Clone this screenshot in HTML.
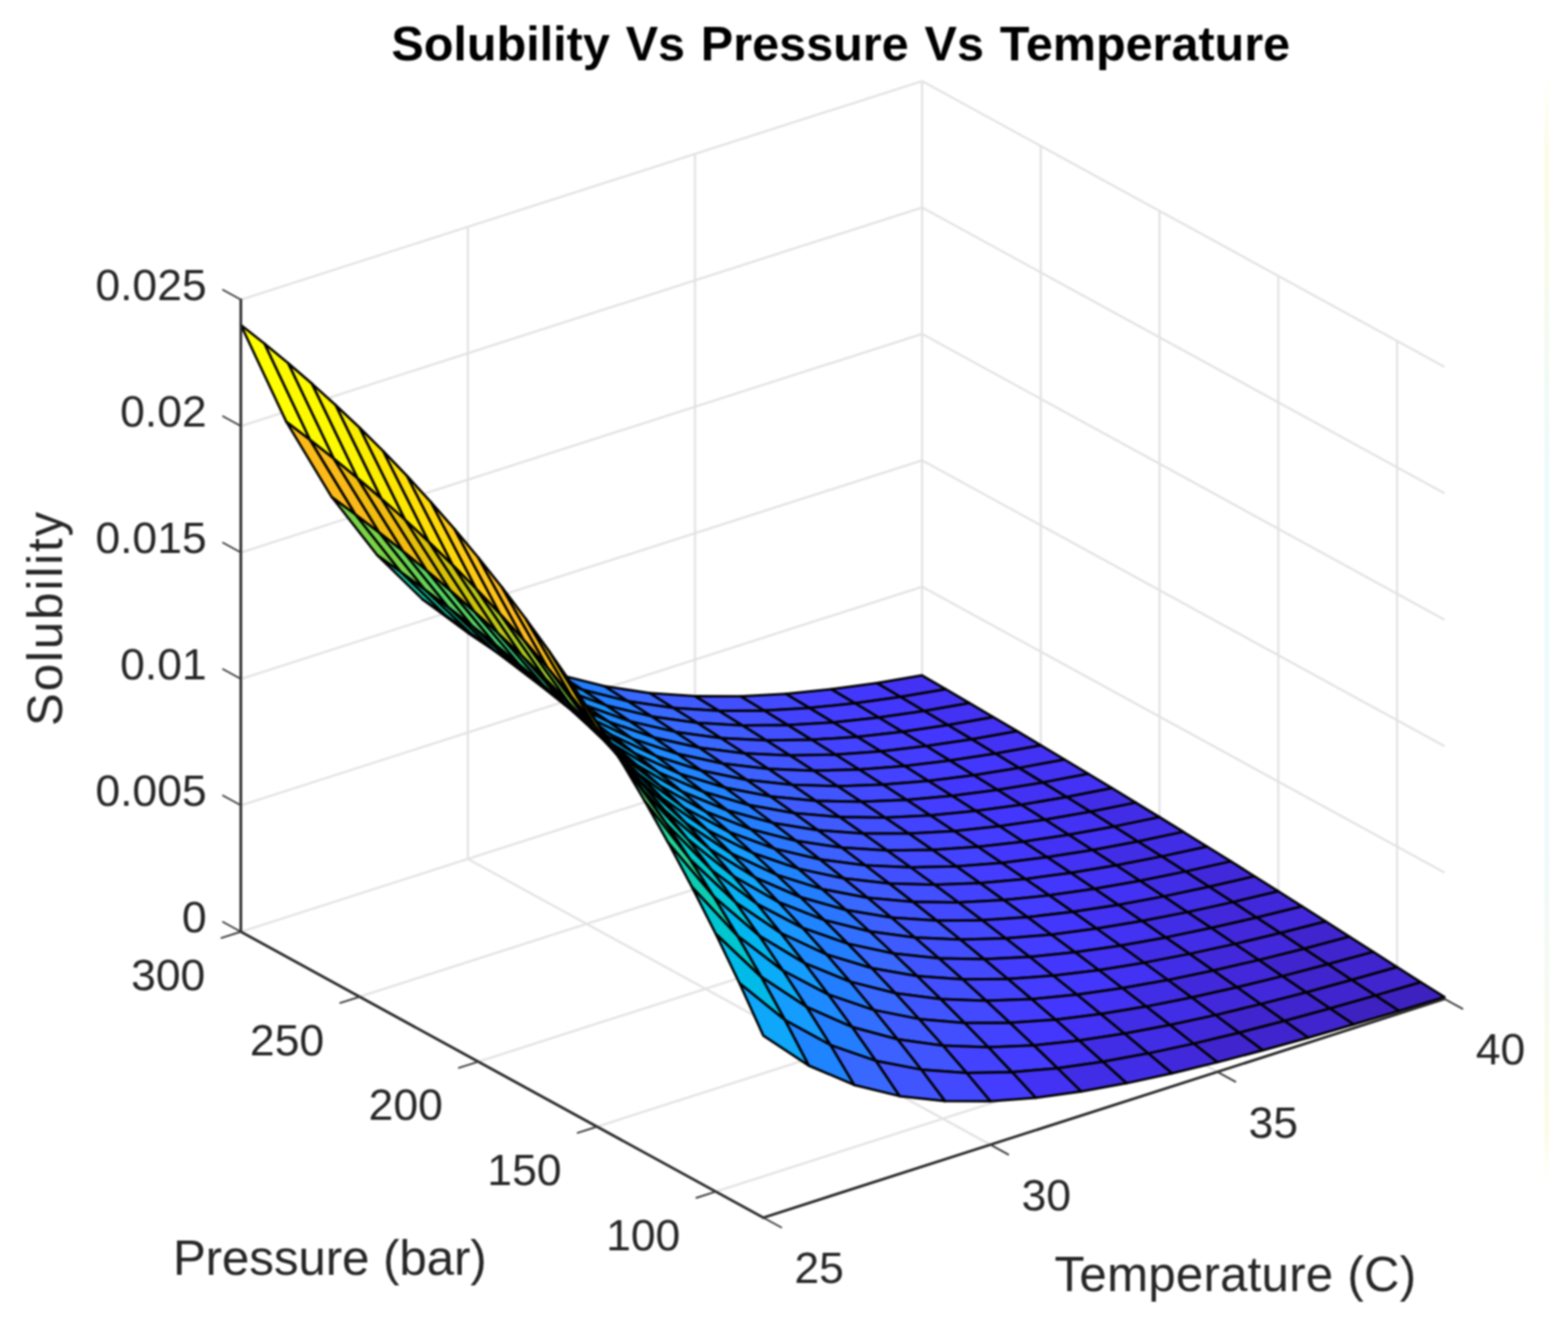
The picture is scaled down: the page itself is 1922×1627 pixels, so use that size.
<!DOCTYPE html><html><head><meta charset="utf-8"><style>html,body{margin:0;padding:0;background:#fff;overflow:hidden}svg{display:block}</style></head><body><svg width="1922" height="1627" viewBox="0 0 1922 1627" style="filter:blur(0.80px)"><rect width="1922" height="1627" fill="#ffffff"/><defs><linearGradient id="art" x1="0" y1="0" x2="0" y2="1"><stop offset="0" stop-color="#fffbe6" stop-opacity="0"/><stop offset="0.08" stop-color="#fdfbe4"/><stop offset="0.35" stop-color="#eefafb"/><stop offset="0.7" stop-color="#eff9fb"/><stop offset="0.95" stop-color="#fdfbe8"/><stop offset="1" stop-color="#fffbe6" stop-opacity="0"/></linearGradient></defs><rect x="1893" y="90" width="6" height="1360" fill="url(#art)"/><g stroke-linecap="butt"><line x1="295.2" y1="1142.4" x2="1130.2" y2="874.4" stroke="#e2e2e2" stroke-width="2.60"/><line x1="295.2" y1="987.4" x2="1130.2" y2="719.4" stroke="#e2e2e2" stroke-width="2.60"/><line x1="295.2" y1="832.4" x2="1130.2" y2="564.4" stroke="#e2e2e2" stroke-width="2.60"/><line x1="295.2" y1="677.4" x2="1130.2" y2="409.4" stroke="#e2e2e2" stroke-width="2.60"/><line x1="295.2" y1="522.4" x2="1130.2" y2="254.4" stroke="#e2e2e2" stroke-width="2.60"/><line x1="295.2" y1="367.4" x2="1130.2" y2="99.4" stroke="#e2e2e2" stroke-width="2.60"/><line x1="573.5" y1="1053.1" x2="573.5" y2="278.1" stroke="#e2e2e2" stroke-width="2.60"/><line x1="851.9" y1="963.7" x2="851.9" y2="188.7" stroke="#e2e2e2" stroke-width="2.60"/><line x1="1130.2" y1="874.4" x2="1130.2" y2="99.4" stroke="#e2e2e2" stroke-width="2.60"/><line x1="1130.2" y1="874.4" x2="1770.7" y2="1224.8" stroke="#e2e2e2" stroke-width="2.60"/><line x1="1130.2" y1="719.4" x2="1770.7" y2="1069.8" stroke="#e2e2e2" stroke-width="2.60"/><line x1="1130.2" y1="564.4" x2="1770.7" y2="914.8" stroke="#e2e2e2" stroke-width="2.60"/><line x1="1130.2" y1="409.4" x2="1770.7" y2="759.8" stroke="#e2e2e2" stroke-width="2.60"/><line x1="1130.2" y1="254.4" x2="1770.7" y2="604.8" stroke="#e2e2e2" stroke-width="2.60"/><line x1="1130.2" y1="99.4" x2="1770.7" y2="449.8" stroke="#e2e2e2" stroke-width="2.60"/><line x1="1275.8" y1="954.0" x2="1275.8" y2="179.0" stroke="#e2e2e2" stroke-width="2.60"/><line x1="1421.3" y1="1033.7" x2="1421.3" y2="258.7" stroke="#e2e2e2" stroke-width="2.60"/><line x1="1566.9" y1="1113.3" x2="1566.9" y2="338.3" stroke="#e2e2e2" stroke-width="2.60"/><line x1="1712.5" y1="1193.0" x2="1712.5" y2="418.0" stroke="#e2e2e2" stroke-width="2.60"/><line x1="440.8" y1="1222.1" x2="1275.8" y2="954.0" stroke="#e2e2e2" stroke-width="2.60"/><line x1="586.3" y1="1301.7" x2="1421.3" y2="1033.7" stroke="#e2e2e2" stroke-width="2.60"/><line x1="731.8" y1="1381.4" x2="1566.9" y2="1113.3" stroke="#e2e2e2" stroke-width="2.60"/><line x1="877.4" y1="1461.0" x2="1712.5" y2="1193.0" stroke="#e2e2e2" stroke-width="2.60"/><line x1="1214.0" y1="1403.5" x2="573.5" y2="1053.1" stroke="#e2e2e2" stroke-width="2.60"/><line x1="1492.3" y1="1314.2" x2="851.9" y2="963.7" stroke="#e2e2e2" stroke-width="2.60"/></g><g stroke="#000000" stroke-width="3.00" stroke-linejoin="round"><polygon points="1103.7,854.5 1074.6,837.4 1130.2,828.1 1159.4,845.0" fill="#4332f3"/><polygon points="1048.0,862.3 1018.9,845.1 1074.6,837.4 1103.7,854.5" fill="#4437fd"/><polygon points="992.3,868.1 963.2,850.7 1018.9,845.1 1048.0,862.3" fill="#443dff"/><polygon points="936.7,871.3 907.6,853.7 963.2,850.7 992.3,868.1" fill="#4349ff"/><polygon points="881.0,871.5 851.9,853.6 907.6,853.7 936.7,871.3" fill="#424fff"/><polygon points="825.3,867.9 796.2,849.8 851.9,853.6 881.0,871.5" fill="#3f5bff"/><polygon points="769.7,859.7 740.6,841.3 796.2,849.8 825.3,867.9" fill="#3968ff"/><polygon points="714.0,845.8 684.9,827.1 740.6,841.3 769.7,859.7" fill="#237dff"/><polygon points="658.3,824.9 629.2,805.8 684.9,827.1 714.0,845.8" fill="#1c90ff"/><polygon points="602.7,795.3 573.5,775.7 629.2,805.8 658.3,824.9" fill="#0ea7fa"/><polygon points="547.0,755.0 517.9,734.8 573.5,775.7 602.7,795.3" fill="#00bfe1"/><polygon points="491.3,701.1 462.2,680.4 517.9,734.8 547.0,755.0" fill="#15cea6"/><polygon points="435.6,630.6 406.5,609.2 462.2,680.4 491.3,701.1" fill="#78d447"/><polygon points="380.0,539.1 350.9,517.0 406.5,609.2 435.6,630.6" fill="#fbba18"/><polygon points="324.3,421.4 295.2,398.4 350.9,517.0 380.0,539.1" fill="#ffff00"/><polygon points="1132.8,871.7 1103.7,854.5 1159.4,845.0 1188.5,862.1" fill="#4332f3"/><polygon points="1077.1,879.7 1048.0,862.3 1103.7,854.5 1132.8,871.7" fill="#4437fd"/><polygon points="1021.5,885.7 992.3,868.1 1048.0,862.3 1077.1,879.7" fill="#443dff"/><polygon points="965.8,889.1 936.7,871.3 992.3,868.1 1021.5,885.7" fill="#4343ff"/><polygon points="910.1,889.6 881.0,871.5 936.7,871.3 965.8,889.1" fill="#424fff"/><polygon points="854.5,886.3 825.3,867.9 881.0,871.5 910.1,889.6" fill="#3f5bff"/><polygon points="798.8,878.4 769.7,859.7 825.3,867.9 854.5,886.3" fill="#3968ff"/><polygon points="743.1,864.9 714.0,845.8 769.7,859.7 798.8,878.4" fill="#237dff"/><polygon points="687.4,844.5 658.3,824.9 714.0,845.8 743.1,864.9" fill="#1c90ff"/><polygon points="631.8,815.4 602.7,795.3 658.3,824.9 687.4,844.5" fill="#0ea7fa"/><polygon points="576.1,775.6 547.0,755.0 602.7,795.3 631.8,815.4" fill="#00bfe1"/><polygon points="520.4,722.5 491.3,701.1 547.0,755.0 576.1,775.6" fill="#15cea6"/><polygon points="464.8,652.7 435.6,630.6 491.3,701.1 520.4,722.5" fill="#78d447"/><polygon points="409.1,562.1 380.0,539.1 435.6,630.6 464.8,652.7" fill="#fbba18"/><polygon points="353.4,445.4 324.3,421.4 380.0,539.1 409.1,562.1" fill="#fdfa00"/><polygon points="1161.9,889.0 1132.8,871.7 1188.5,862.1 1217.6,879.2" fill="#4332f3"/><polygon points="1106.2,897.2 1077.1,879.7 1132.8,871.7 1161.9,889.0" fill="#4437fd"/><polygon points="1050.6,903.4 1021.5,885.7 1077.1,879.7 1106.2,897.2" fill="#443dff"/><polygon points="994.9,907.1 965.8,889.1 1021.5,885.7 1050.6,903.4" fill="#4343ff"/><polygon points="939.2,907.8 910.1,889.6 965.8,889.1 994.9,907.1" fill="#424fff"/><polygon points="883.6,904.9 854.5,886.3 910.1,889.6 939.2,907.8" fill="#3f5bff"/><polygon points="827.9,897.4 798.8,878.4 854.5,886.3 883.6,904.9" fill="#3968ff"/><polygon points="772.2,884.4 743.1,864.9 798.8,878.4 827.9,897.4" fill="#2b76ff"/><polygon points="716.5,864.4 687.4,844.5 743.1,864.9 772.2,884.4" fill="#1c90ff"/><polygon points="660.9,836.0 631.8,815.4 687.4,844.5 716.5,864.4" fill="#0ea7fa"/><polygon points="605.2,796.9 576.1,775.6 631.8,815.4 660.9,836.0" fill="#00bfe1"/><polygon points="549.5,744.5 520.4,722.5 576.1,775.6 605.2,796.9" fill="#15cea6"/><polygon points="493.9,675.6 464.8,652.7 520.4,722.5 549.5,744.5" fill="#66d555"/><polygon points="438.2,586.1 409.1,562.1 464.8,652.7 493.9,675.6" fill="#f1bc0f"/><polygon points="382.5,470.5 353.4,445.4 409.1,562.1 438.2,586.1" fill="#fdfa00"/><polygon points="1191.0,906.4 1161.9,889.0 1217.6,879.2 1246.7,896.4" fill="#4332f3"/><polygon points="1135.3,914.8 1106.2,897.2 1161.9,889.0 1191.0,906.4" fill="#4437fd"/><polygon points="1079.7,921.2 1050.6,903.4 1106.2,897.2 1135.3,914.8" fill="#443dff"/><polygon points="1024.0,925.2 994.9,907.1 1050.6,903.4 1079.7,921.2" fill="#4343ff"/><polygon points="968.3,926.3 939.2,907.8 994.9,907.1 1024.0,925.2" fill="#424fff"/><polygon points="912.7,923.7 883.6,904.9 939.2,907.8 968.3,926.3" fill="#4155ff"/><polygon points="857.0,916.7 827.9,897.4 883.6,904.9 912.7,923.7" fill="#3968ff"/><polygon points="801.3,904.2 772.2,884.4 827.9,897.4 857.0,916.7" fill="#2b76ff"/><polygon points="745.7,884.8 716.5,864.4 772.2,884.4 801.3,904.2" fill="#1d8aff"/><polygon points="690.0,857.0 660.9,836.0 716.5,864.4 745.7,884.8" fill="#11a1fe"/><polygon points="634.3,818.7 605.2,796.9 660.9,836.0 690.0,857.0" fill="#00bbe8"/><polygon points="578.6,767.2 549.5,744.5 605.2,796.9 634.3,818.7" fill="#0cccb2"/><polygon points="523.0,699.4 493.9,675.6 549.5,744.5 578.6,767.2" fill="#56d664"/><polygon points="467.3,611.0 438.2,586.1 493.9,675.6 523.0,699.4" fill="#f1bc0f"/><polygon points="411.6,496.9 382.5,470.5 438.2,586.1 467.3,611.0" fill="#fcf400"/><polygon points="1220.1,924.0 1191.0,906.4 1246.7,896.4 1275.8,913.8" fill="#4332f3"/><polygon points="1164.5,932.6 1135.3,914.8 1191.0,906.4 1220.1,924.0" fill="#4437fd"/><polygon points="1108.8,939.3 1079.7,921.2 1135.3,914.8 1164.5,932.6" fill="#443dff"/><polygon points="1053.1,943.6 1024.0,925.2 1079.7,921.2 1108.8,939.3" fill="#4343ff"/><polygon points="997.5,945.0 968.3,926.3 1024.0,925.2 1053.1,943.6" fill="#4349ff"/><polygon points="941.8,942.8 912.7,923.7 968.3,926.3 997.5,945.0" fill="#4155ff"/><polygon points="886.1,936.3 857.0,916.7 912.7,923.7 941.8,942.8" fill="#3c61ff"/><polygon points="830.4,924.3 801.3,904.2 857.0,916.7 886.1,936.3" fill="#2b76ff"/><polygon points="774.8,905.6 745.7,884.8 801.3,904.2 830.4,924.3" fill="#1d8aff"/><polygon points="719.1,878.5 690.0,857.0 745.7,884.8 774.8,905.6" fill="#11a1fe"/><polygon points="663.4,841.1 634.3,818.7 690.0,857.0 719.1,878.5" fill="#00bbe8"/><polygon points="607.8,790.7 578.6,767.2 634.3,818.7 663.4,841.1" fill="#0cccb2"/><polygon points="552.1,724.0 523.0,699.4 578.6,767.2 607.8,790.7" fill="#56d664"/><polygon points="496.4,637.0 467.3,611.0 523.0,699.4 552.1,724.0" fill="#e5bf0a"/><polygon points="440.8,524.4 411.6,496.9 467.3,611.0 496.4,637.0" fill="#fbed00"/><polygon points="1249.2,941.6 1220.1,924.0 1275.8,913.8 1304.9,931.2" fill="#4332f3"/><polygon points="1193.6,950.5 1164.5,932.6 1220.1,924.0 1249.2,941.6" fill="#4437fd"/><polygon points="1137.9,957.5 1108.8,939.3 1164.5,932.6 1193.6,950.5" fill="#443dff"/><polygon points="1082.2,962.1 1053.1,943.6 1108.8,939.3 1137.9,957.5" fill="#4343ff"/><polygon points="1026.6,963.9 997.5,945.0 1053.1,943.6 1082.2,962.1" fill="#4349ff"/><polygon points="970.9,962.2 941.8,942.8 997.5,945.0 1026.6,963.9" fill="#4155ff"/><polygon points="915.2,956.2 886.1,936.3 941.8,942.8 970.9,962.2" fill="#3c61ff"/><polygon points="859.5,944.8 830.4,924.3 886.1,936.3 915.2,956.2" fill="#336fff"/><polygon points="803.9,926.9 774.8,905.6 830.4,924.3 859.5,944.8" fill="#1d8aff"/><polygon points="748.2,900.6 719.1,878.5 774.8,905.6 803.9,926.9" fill="#149cff"/><polygon points="692.5,864.2 663.4,841.1 719.1,878.5 748.2,900.6" fill="#00b6ee"/><polygon points="636.9,814.9 607.8,790.7 663.4,841.1 692.5,864.2" fill="#00cabd"/><polygon points="581.2,749.5 552.1,724.0 607.8,790.7 636.9,814.9" fill="#47d672"/><polygon points="525.5,664.1 496.4,637.0 552.1,724.0 581.2,749.5" fill="#d8c208"/><polygon points="469.9,553.3 440.8,524.4 496.4,637.0 525.5,664.1" fill="#fde601"/><polygon points="1278.3,959.4 1249.2,941.6 1304.9,931.2 1334.0,948.7" fill="#4332f3"/><polygon points="1222.7,968.5 1193.6,950.5 1249.2,941.6 1278.3,959.4" fill="#4332f3"/><polygon points="1167.0,975.8 1137.9,957.5 1193.6,950.5 1222.7,968.5" fill="#4437fd"/><polygon points="1111.3,980.8 1082.2,962.1 1137.9,957.5 1167.0,975.8" fill="#4343ff"/><polygon points="1055.7,983.1 1026.6,963.9 1082.2,962.1 1111.3,980.8" fill="#4349ff"/><polygon points="1000.0,981.9 970.9,962.2 1026.6,963.9 1055.7,983.1" fill="#4155ff"/><polygon points="944.3,976.5 915.2,956.2 970.9,962.2 1000.0,981.9" fill="#3c61ff"/><polygon points="888.7,965.8 859.5,944.8 915.2,956.2 944.3,976.5" fill="#336fff"/><polygon points="833.0,948.6 803.9,926.9 859.5,944.8 888.7,965.8" fill="#1f84ff"/><polygon points="777.3,923.3 748.2,900.6 803.9,926.9 833.0,948.6" fill="#149cff"/><polygon points="721.7,887.9 692.5,864.2 748.2,900.6 777.3,923.3" fill="#05b1f3"/><polygon points="666.0,839.9 636.9,814.9 692.5,864.2 721.7,887.9" fill="#00c8c7"/><polygon points="610.3,776.0 581.2,749.5 636.9,814.9 666.0,839.9" fill="#38d67f"/><polygon points="554.6,692.3 525.5,664.1 581.2,749.5 610.3,776.0" fill="#cac50c"/><polygon points="499.0,583.6 469.9,553.3 525.5,664.1 554.6,692.3" fill="#ffdf05"/><polygon points="1307.5,977.3 1278.3,959.4 1334.0,948.7 1363.1,966.3" fill="#4332f3"/><polygon points="1251.8,986.7 1222.7,968.5 1278.3,959.4 1307.5,977.3" fill="#4332f3"/><polygon points="1196.1,994.3 1167.0,975.8 1222.7,968.5 1251.8,986.7" fill="#4437fd"/><polygon points="1140.4,999.8 1111.3,980.8 1167.0,975.8 1196.1,994.3" fill="#443dff"/><polygon points="1084.8,1002.5 1055.7,983.1 1111.3,980.8 1140.4,999.8" fill="#4349ff"/><polygon points="1029.1,1001.8 1000.0,981.9 1055.7,983.1 1084.8,1002.5" fill="#424fff"/><polygon points="973.4,997.0 944.3,976.5 1000.0,981.9 1029.1,1001.8" fill="#3f5bff"/><polygon points="917.8,987.1 888.7,965.8 944.3,976.5 973.4,997.0" fill="#336fff"/><polygon points="862.1,970.8 833.0,948.6 888.7,965.8 917.8,987.1" fill="#1f84ff"/><polygon points="806.4,946.5 777.3,923.3 833.0,948.6 862.1,970.8" fill="#1996ff"/><polygon points="750.8,912.3 721.7,887.9 777.3,923.3 806.4,946.5" fill="#05b1f3"/><polygon points="695.1,865.7 666.0,839.9 721.7,887.9 750.8,912.3" fill="#00c6d0"/><polygon points="639.4,803.6 610.3,776.0 666.0,839.9 695.1,865.7" fill="#2bd58b"/><polygon points="583.7,721.8 554.6,692.3 610.3,776.0 639.4,803.6" fill="#bbc915"/><polygon points="528.1,615.4 499.0,583.6 554.6,692.3 583.7,721.8" fill="#ffd80a"/><polygon points="1336.6,995.3 1307.5,977.3 1363.1,966.3 1392.2,984.1" fill="#422de7"/><polygon points="1280.9,1005.0 1251.8,986.7 1307.5,977.3 1336.6,995.3" fill="#4332f3"/><polygon points="1225.2,1013.1 1196.1,994.3 1251.8,986.7 1280.9,1005.0" fill="#4437fd"/><polygon points="1169.6,1018.9 1140.4,999.8 1196.1,994.3 1225.2,1013.1" fill="#443dff"/><polygon points="1113.9,1022.1 1084.8,1002.5 1140.4,999.8 1169.6,1018.9" fill="#4343ff"/><polygon points="1058.2,1022.1 1029.1,1001.8 1084.8,1002.5 1113.9,1022.1" fill="#424fff"/><polygon points="1002.6,1018.0 973.4,997.0 1029.1,1001.8 1058.2,1022.1" fill="#3f5bff"/><polygon points="946.9,1008.9 917.8,987.1 973.4,997.0 1002.6,1018.0" fill="#3968ff"/><polygon points="891.2,993.5 862.1,970.8 917.8,987.1 946.9,1008.9" fill="#237dff"/><polygon points="835.5,970.4 806.4,946.5 862.1,970.8 891.2,993.5" fill="#1996ff"/><polygon points="779.9,937.5 750.8,912.3 806.4,946.5 835.5,970.4" fill="#0aacf7"/><polygon points="724.2,892.5 695.1,865.7 750.8,912.3 779.9,937.5" fill="#00c6d0"/><polygon points="668.5,832.1 639.4,803.6 695.1,865.7 724.2,892.5" fill="#22d397"/><polygon points="612.9,752.6 583.7,721.8 639.4,803.6 668.5,832.1" fill="#abcc1f"/><polygon points="557.2,648.7 528.1,615.4 583.7,721.8 612.9,752.6" fill="#ffca13"/><polygon points="1365.7,1013.4 1336.6,995.3 1392.2,984.1 1421.3,1001.9" fill="#422de7"/><polygon points="1310.0,1023.5 1280.9,1005.0 1336.6,995.3 1365.7,1013.4" fill="#4332f3"/><polygon points="1254.3,1032.0 1225.2,1013.1 1280.9,1005.0 1310.0,1023.5" fill="#4437fd"/><polygon points="1198.7,1038.3 1169.6,1018.9 1225.2,1013.1 1254.3,1032.0" fill="#443dff"/><polygon points="1143.0,1042.1 1113.9,1022.1 1169.6,1018.9 1198.7,1038.3" fill="#4343ff"/><polygon points="1087.3,1042.7 1058.2,1022.1 1113.9,1022.1 1143.0,1042.1" fill="#424fff"/><polygon points="1031.7,1039.3 1002.6,1018.0 1058.2,1022.1 1087.3,1042.7" fill="#4155ff"/><polygon points="976.0,1031.1 946.9,1008.9 1002.6,1018.0 1031.7,1039.3" fill="#3968ff"/><polygon points="920.3,1016.8 891.2,993.5 946.9,1008.9 976.0,1031.1" fill="#237dff"/><polygon points="864.6,994.9 835.5,970.4 891.2,993.5 920.3,1016.8" fill="#1c90ff"/><polygon points="809.0,963.5 779.9,937.5 835.5,970.4 864.6,994.9" fill="#0ea7fa"/><polygon points="753.3,920.2 724.2,892.5 779.9,937.5 809.0,963.5" fill="#00c3d9"/><polygon points="697.6,861.8 668.5,832.1 724.2,892.5 753.3,920.2" fill="#1cd19b"/><polygon points="642.0,784.6 612.9,752.6 668.5,832.1 697.6,861.8" fill="#9acf2b"/><polygon points="586.3,683.6 557.2,648.7 612.9,752.6 642.0,784.6" fill="#ffc319"/><polygon points="1394.8,1031.7 1365.7,1013.4 1421.3,1001.9 1450.5,1019.9" fill="#422de7"/><polygon points="1339.1,1042.2 1310.0,1023.5 1365.7,1013.4 1394.8,1031.7" fill="#4332f3"/><polygon points="1283.4,1051.0 1254.3,1032.0 1310.0,1023.5 1339.1,1042.2" fill="#4332f3"/><polygon points="1227.8,1057.9 1198.7,1038.3 1254.3,1032.0 1283.4,1051.0" fill="#4437fd"/><polygon points="1172.1,1062.3 1143.0,1042.1 1198.7,1038.3 1227.8,1057.9" fill="#4343ff"/><polygon points="1116.4,1063.6 1087.3,1042.7 1143.0,1042.1 1172.1,1062.3" fill="#4349ff"/><polygon points="1060.8,1061.1 1031.7,1039.3 1087.3,1042.7 1116.4,1063.6" fill="#4155ff"/><polygon points="1005.1,1053.8 976.0,1031.1 1031.7,1039.3 1060.8,1061.1" fill="#3c61ff"/><polygon points="949.4,1040.6 920.3,1016.8 976.0,1031.1 1005.1,1053.8" fill="#2b76ff"/><polygon points="893.8,1020.1 864.6,994.9 920.3,1016.8 949.4,1040.6" fill="#1d8aff"/><polygon points="838.1,990.3 809.0,963.5 864.6,994.9 893.8,1020.1" fill="#11a1fe"/><polygon points="782.4,948.8 753.3,920.2 809.0,963.5 838.1,990.3" fill="#00bfe1"/><polygon points="726.8,892.7 697.6,861.8 753.3,920.2 782.4,948.8" fill="#15cea6"/><polygon points="671.1,818.2 642.0,784.6 697.6,861.8 726.8,892.7" fill="#78d447"/><polygon points="615.4,720.2 586.3,683.6 642.0,784.6 671.1,818.2" fill="#ffb921"/><polygon points="1423.9,1050.1 1394.8,1031.7 1450.5,1019.9 1479.6,1038.0" fill="#422de7"/><polygon points="1368.2,1061.0 1339.1,1042.2 1394.8,1031.7 1423.9,1050.1" fill="#422de7"/><polygon points="1312.6,1070.3 1283.4,1051.0 1339.1,1042.2 1368.2,1061.0" fill="#4332f3"/><polygon points="1256.9,1077.7 1227.8,1057.9 1283.4,1051.0 1312.6,1070.3" fill="#4437fd"/><polygon points="1201.2,1082.7 1172.1,1062.3 1227.8,1057.9 1256.9,1077.7" fill="#443dff"/><polygon points="1145.5,1084.8 1116.4,1063.6 1172.1,1062.3 1201.2,1082.7" fill="#4349ff"/><polygon points="1089.9,1083.2 1060.8,1061.1 1116.4,1063.6 1145.5,1084.8" fill="#424fff"/><polygon points="1034.2,1077.0 1005.1,1053.8 1060.8,1061.1 1089.9,1083.2" fill="#3c61ff"/><polygon points="978.5,1065.1 949.4,1040.6 1005.1,1053.8 1034.2,1077.0" fill="#336fff"/><polygon points="922.9,1046.0 893.8,1020.1 949.4,1040.6 978.5,1065.1" fill="#1f84ff"/><polygon points="867.2,1017.9 838.1,990.3 893.8,1020.1 922.9,1046.0" fill="#11a1fe"/><polygon points="811.5,978.5 782.4,948.8 838.1,990.3 867.2,1017.9" fill="#00bbe8"/><polygon points="755.9,924.8 726.8,892.7 782.4,948.8 811.5,978.5" fill="#0cccb2"/><polygon points="700.2,853.2 671.1,818.2 726.8,892.7 755.9,924.8" fill="#66d555"/><polygon points="644.5,758.7 615.4,720.2 671.1,818.2 700.2,853.2" fill="#fbba18"/><polygon points="1453.0,1068.6 1423.9,1050.1 1479.6,1038.0 1508.7,1056.1" fill="#422de7"/><polygon points="1397.3,1080.0 1368.2,1061.0 1423.9,1050.1 1453.0,1068.6" fill="#422de7"/><polygon points="1341.7,1089.8 1312.6,1070.3 1368.2,1061.0 1397.3,1080.0" fill="#4332f3"/><polygon points="1286.0,1097.8 1256.9,1077.7 1312.6,1070.3 1341.7,1089.8" fill="#4437fd"/><polygon points="1230.3,1103.5 1201.2,1082.7 1256.9,1077.7 1286.0,1097.8" fill="#443dff"/><polygon points="1174.7,1106.4 1145.5,1084.8 1201.2,1082.7 1230.3,1103.5" fill="#4343ff"/><polygon points="1119.0,1105.7 1089.9,1083.2 1145.5,1084.8 1174.7,1106.4" fill="#424fff"/><polygon points="1063.3,1100.7 1034.2,1077.0 1089.9,1083.2 1119.0,1105.7" fill="#3f5bff"/><polygon points="1007.6,1090.1 978.5,1065.1 1034.2,1077.0 1063.3,1100.7" fill="#3968ff"/><polygon points="952.0,1072.6 922.9,1046.0 978.5,1065.1 1007.6,1090.1" fill="#1f84ff"/><polygon points="896.3,1046.4 867.2,1017.9 922.9,1046.0 952.0,1072.6" fill="#149cff"/><polygon points="840.6,1009.2 811.5,978.5 867.2,1017.9 896.3,1046.4" fill="#05b1f3"/><polygon points="785.0,958.2 755.9,924.8 811.5,978.5 840.6,1009.2" fill="#00c8c7"/><polygon points="729.3,889.8 700.2,853.2 755.9,924.8 785.0,958.2" fill="#47d672"/><polygon points="673.6,799.0 644.5,758.7 700.2,853.2 729.3,889.8" fill="#e5bf0a"/><polygon points="1482.1,1087.3 1453.0,1068.6 1508.7,1056.1 1537.8,1074.4" fill="#4129db"/><polygon points="1426.5,1099.1 1397.3,1080.0 1453.0,1068.6 1482.1,1087.3" fill="#422de7"/><polygon points="1370.8,1109.5 1341.7,1089.8 1397.3,1080.0 1426.5,1099.1" fill="#4332f3"/><polygon points="1315.1,1118.1 1286.0,1097.8 1341.7,1089.8 1370.8,1109.5" fill="#4332f3"/><polygon points="1259.4,1124.5 1230.3,1103.5 1286.0,1097.8 1315.1,1118.1" fill="#443dff"/><polygon points="1203.8,1128.3 1174.7,1106.4 1230.3,1103.5 1259.4,1124.5" fill="#4343ff"/><polygon points="1148.1,1128.7 1119.0,1105.7 1174.7,1106.4 1203.8,1128.3" fill="#4349ff"/><polygon points="1092.4,1124.9 1063.3,1100.7 1119.0,1105.7 1148.1,1128.7" fill="#4155ff"/><polygon points="1036.8,1115.7 1007.6,1090.1 1063.3,1100.7 1092.4,1124.9" fill="#3968ff"/><polygon points="981.1,1100.0 952.0,1072.6 1007.6,1090.1 1036.8,1115.7" fill="#237dff"/><polygon points="925.4,1075.8 896.3,1046.4 952.0,1072.6 981.1,1100.0" fill="#1c90ff"/><polygon points="869.8,1041.1 840.6,1009.2 896.3,1046.4 925.4,1075.8" fill="#0aacf7"/><polygon points="814.1,993.0 785.0,958.2 840.6,1009.2 869.8,1041.1" fill="#00c6d0"/><polygon points="758.4,928.0 729.3,889.8 785.0,958.2 814.1,993.0" fill="#2bd58b"/><polygon points="702.7,841.4 673.6,799.0 729.3,889.8 758.4,928.0" fill="#cac50c"/><polygon points="1511.2,1106.1 1482.1,1087.3 1537.8,1074.4 1566.9,1092.8" fill="#4129db"/><polygon points="1455.6,1118.4 1426.5,1099.1 1482.1,1087.3 1511.2,1106.1" fill="#422de7"/><polygon points="1399.9,1129.3 1370.8,1109.5 1426.5,1099.1 1455.6,1118.4" fill="#422de7"/><polygon points="1344.2,1138.6 1315.1,1118.1 1370.8,1109.5 1399.9,1129.3" fill="#4332f3"/><polygon points="1288.5,1145.9 1259.4,1124.5 1315.1,1118.1 1344.2,1138.6" fill="#4437fd"/><polygon points="1232.9,1150.6 1203.8,1128.3 1259.4,1124.5 1288.5,1145.9" fill="#443dff"/><polygon points="1177.2,1152.1 1148.1,1128.7 1203.8,1128.3 1232.9,1150.6" fill="#4349ff"/><polygon points="1121.5,1149.6 1092.4,1124.9 1148.1,1128.7 1177.2,1152.1" fill="#4155ff"/><polygon points="1065.9,1142.0 1036.8,1115.7 1092.4,1124.9 1121.5,1149.6" fill="#3c61ff"/><polygon points="1010.2,1128.1 981.1,1100.0 1036.8,1115.7 1065.9,1142.0" fill="#2b76ff"/><polygon points="954.5,1106.2 925.4,1075.8 981.1,1100.0 1010.2,1128.1" fill="#1d8aff"/><polygon points="898.9,1074.2 869.8,1041.1 925.4,1075.8 954.5,1106.2" fill="#0ea7fa"/><polygon points="843.2,1029.2 814.1,993.0 869.8,1041.1 898.9,1074.2" fill="#00bfe1"/><polygon points="787.5,968.0 758.4,928.0 814.1,993.0 843.2,1029.2" fill="#1cd19b"/><polygon points="731.8,885.9 702.7,841.4 758.4,928.0 787.5,968.0" fill="#9acf2b"/><polygon points="1540.3,1125.0 1511.2,1106.1 1566.9,1092.8 1596.0,1111.3" fill="#4129db"/><polygon points="1484.7,1137.8 1455.6,1118.4 1511.2,1106.1 1540.3,1125.0" fill="#4129db"/><polygon points="1429.0,1149.4 1399.9,1129.3 1455.6,1118.4 1484.7,1137.8" fill="#422de7"/><polygon points="1373.3,1159.4 1344.2,1138.6 1399.9,1129.3 1429.0,1149.4" fill="#4332f3"/><polygon points="1317.7,1167.5 1288.5,1145.9 1344.2,1138.6 1373.3,1159.4" fill="#4437fd"/><polygon points="1262.0,1173.2 1232.9,1150.6 1288.5,1145.9 1317.7,1167.5" fill="#443dff"/><polygon points="1206.3,1176.0 1177.2,1152.1 1232.9,1150.6 1262.0,1173.2" fill="#4343ff"/><polygon points="1150.7,1174.9 1121.5,1149.6 1177.2,1152.1 1206.3,1176.0" fill="#424fff"/><polygon points="1095.0,1169.0 1065.9,1142.0 1121.5,1149.6 1150.7,1174.9" fill="#3f5bff"/><polygon points="1039.3,1157.1 1010.2,1128.1 1065.9,1142.0 1095.0,1169.0" fill="#336fff"/><polygon points="983.6,1137.6 954.5,1106.2 1010.2,1128.1 1039.3,1157.1" fill="#1f84ff"/><polygon points="928.0,1108.4 898.9,1074.2 954.5,1106.2 983.6,1137.6" fill="#149cff"/><polygon points="872.3,1066.9 843.2,1029.2 898.9,1074.2 928.0,1108.4" fill="#00bbe8"/><polygon points="816.6,1009.8 787.5,968.0 843.2,1029.2 872.3,1066.9" fill="#0cccb2"/><polygon points="761.0,932.6 731.8,885.9 787.5,968.0 816.6,1009.8" fill="#78d447"/><polygon points="1569.4,1144.0 1540.3,1125.0 1596.0,1111.3 1625.1,1129.8" fill="#4129db"/><polygon points="1513.8,1157.4 1484.7,1137.8 1540.3,1125.0 1569.4,1144.0" fill="#4129db"/><polygon points="1458.1,1169.6 1429.0,1149.4 1484.7,1137.8 1513.8,1157.4" fill="#422de7"/><polygon points="1402.4,1180.4 1373.3,1159.4 1429.0,1149.4 1458.1,1169.6" fill="#422de7"/><polygon points="1346.8,1189.4 1317.7,1167.5 1373.3,1159.4 1402.4,1180.4" fill="#4332f3"/><polygon points="1291.1,1196.3 1262.0,1173.2 1317.7,1167.5 1346.8,1189.4" fill="#4437fd"/><polygon points="1235.4,1200.3 1206.3,1176.0 1262.0,1173.2 1291.1,1196.3" fill="#443dff"/><polygon points="1179.8,1200.7 1150.7,1174.9 1206.3,1176.0 1235.4,1200.3" fill="#4349ff"/><polygon points="1124.1,1196.7 1095.0,1169.0 1150.7,1174.9 1179.8,1200.7" fill="#4155ff"/><polygon points="1068.4,1187.0 1039.3,1157.1 1095.0,1169.0 1124.1,1196.7" fill="#3968ff"/><polygon points="1012.8,1170.1 983.6,1137.6 1039.3,1157.1 1068.4,1187.0" fill="#237dff"/><polygon points="957.1,1144.0 928.0,1108.4 983.6,1137.6 1012.8,1170.1" fill="#1996ff"/><polygon points="901.4,1106.2 872.3,1066.9 928.0,1108.4 957.1,1144.0" fill="#05b1f3"/><polygon points="845.7,1053.6 816.6,1009.8 872.3,1066.9 901.4,1106.2" fill="#00c8c7"/><polygon points="790.1,981.8 761.0,932.6 816.6,1009.8 845.7,1053.6" fill="#47d672"/><polygon points="1598.6,1163.2 1569.4,1144.0 1625.1,1129.8 1654.2,1148.4" fill="#4025ce"/><polygon points="1542.9,1177.1 1513.8,1157.4 1569.4,1144.0 1598.6,1163.2" fill="#4129db"/><polygon points="1487.2,1190.0 1458.1,1169.6 1513.8,1157.4 1542.9,1177.1" fill="#4129db"/><polygon points="1431.6,1201.6 1402.4,1180.4 1458.1,1169.6 1487.2,1190.0" fill="#422de7"/><polygon points="1375.9,1211.6 1346.8,1189.4 1402.4,1180.4 1431.6,1201.6" fill="#4332f3"/><polygon points="1320.2,1219.6 1291.1,1196.3 1346.8,1189.4 1375.9,1211.6" fill="#4437fd"/><polygon points="1264.5,1225.0 1235.4,1200.3 1291.1,1196.3 1320.2,1219.6" fill="#443dff"/><polygon points="1208.9,1227.1 1179.8,1200.7 1235.4,1200.3 1264.5,1225.0" fill="#4343ff"/><polygon points="1153.2,1225.1 1124.1,1196.7 1179.8,1200.7 1208.9,1227.1" fill="#424fff"/><polygon points="1097.5,1217.7 1068.4,1187.0 1124.1,1196.7 1153.2,1225.1" fill="#3f5bff"/><polygon points="1041.9,1203.6 1012.8,1170.1 1068.4,1187.0 1097.5,1217.7" fill="#336fff"/><polygon points="986.2,1180.9 957.1,1144.0 1012.8,1170.1 1041.9,1203.6" fill="#1d8aff"/><polygon points="930.5,1147.2 901.4,1106.2 957.1,1144.0 986.2,1180.9" fill="#0ea7fa"/><polygon points="874.9,1099.4 845.7,1053.6 901.4,1106.2 930.5,1147.2" fill="#00c3d9"/><polygon points="819.2,1033.4 790.1,981.8 845.7,1053.6 874.9,1099.4" fill="#22d397"/><polygon points="1627.7,1182.3 1598.6,1163.2 1654.2,1148.4 1683.3,1167.1" fill="#4025ce"/><polygon points="1572.0,1196.9 1542.9,1177.1 1598.6,1163.2 1627.7,1182.3" fill="#4025ce"/><polygon points="1516.3,1210.5 1487.2,1190.0 1542.9,1177.1 1572.0,1196.9" fill="#4129db"/><polygon points="1460.7,1223.0 1431.6,1201.6 1487.2,1190.0 1516.3,1210.5" fill="#4129db"/><polygon points="1405.0,1234.1 1375.9,1211.6 1431.6,1201.6 1460.7,1223.0" fill="#422de7"/><polygon points="1349.3,1243.3 1320.2,1219.6 1375.9,1211.6 1405.0,1234.1" fill="#4332f3"/><polygon points="1293.7,1250.2 1264.5,1225.0 1320.2,1219.6 1349.3,1243.3" fill="#4437fd"/><polygon points="1238.0,1254.1 1208.9,1227.1 1264.5,1225.0 1293.7,1250.2" fill="#443dff"/><polygon points="1182.3,1254.2 1153.2,1225.1 1208.9,1227.1 1238.0,1254.1" fill="#4349ff"/><polygon points="1126.6,1249.4 1097.5,1217.7 1153.2,1225.1 1182.3,1254.2" fill="#4155ff"/><polygon points="1071.0,1238.4 1041.9,1203.6 1097.5,1217.7 1126.6,1249.4" fill="#3968ff"/><polygon points="1015.3,1219.3 986.2,1180.9 1041.9,1203.6 1071.0,1238.4" fill="#237dff"/><polygon points="959.6,1190.0 930.5,1147.2 986.2,1180.9 1015.3,1219.3" fill="#149cff"/><polygon points="904.0,1147.4 874.9,1099.4 930.5,1147.2 959.6,1190.0" fill="#00b6ee"/><polygon points="848.3,1087.8 819.2,1033.4 874.9,1099.4 904.0,1147.4" fill="#0cccb2"/><polygon points="1656.8,1201.5 1627.7,1182.3 1683.3,1167.1 1712.5,1185.7" fill="#4025ce"/><polygon points="1601.1,1216.7 1572.0,1196.9 1627.7,1182.3 1656.8,1201.5" fill="#4025ce"/><polygon points="1545.4,1231.1 1516.3,1210.5 1572.0,1196.9 1601.1,1216.7" fill="#4129db"/><polygon points="1489.8,1244.6 1460.7,1223.0 1516.3,1210.5 1545.4,1231.1" fill="#4129db"/><polygon points="1434.1,1256.8 1405.0,1234.1 1460.7,1223.0 1489.8,1244.6" fill="#422de7"/><polygon points="1378.4,1267.3 1349.3,1243.3 1405.0,1234.1 1434.1,1256.8" fill="#422de7"/><polygon points="1322.8,1275.8 1293.7,1250.2 1349.3,1243.3 1378.4,1267.3" fill="#4332f3"/><polygon points="1267.1,1281.7 1238.0,1254.1 1293.7,1250.2 1322.8,1275.8" fill="#4437fd"/><polygon points="1211.4,1284.0 1182.3,1254.2 1238.0,1254.1 1267.1,1281.7" fill="#4343ff"/><polygon points="1155.8,1282.0 1126.6,1249.4 1182.3,1254.2 1211.4,1284.0" fill="#424fff"/><polygon points="1100.1,1274.3 1071.0,1238.4 1126.6,1249.4 1155.8,1282.0" fill="#3f5bff"/><polygon points="1044.4,1259.2 1015.3,1219.3 1071.0,1238.4 1100.1,1274.3" fill="#336fff"/><polygon points="988.7,1234.6 959.6,1190.0 1015.3,1219.3 1044.4,1259.2" fill="#1d8aff"/><polygon points="933.1,1197.8 904.0,1147.4 959.6,1190.0 988.7,1234.6" fill="#0aacf7"/><polygon points="877.4,1145.1 848.3,1087.8 904.0,1147.4 933.1,1197.8" fill="#00c6d0"/><polygon points="1685.9,1220.6 1656.8,1201.5 1712.5,1185.7 1741.6,1204.2" fill="#4025ce"/><polygon points="1630.2,1236.5 1601.1,1216.7 1656.8,1201.5 1685.9,1220.6" fill="#4025ce"/><polygon points="1574.5,1251.7 1545.4,1231.1 1601.1,1216.7 1630.2,1236.5" fill="#4025ce"/><polygon points="1518.9,1266.2 1489.8,1244.6 1545.4,1231.1 1574.5,1251.7" fill="#4025ce"/><polygon points="1463.2,1279.6 1434.1,1256.8 1489.8,1244.6 1518.9,1266.2" fill="#4129db"/><polygon points="1407.5,1291.6 1378.4,1267.3 1434.1,1256.8 1463.2,1279.6" fill="#422de7"/><polygon points="1351.9,1301.8 1322.8,1275.8 1378.4,1267.3 1407.5,1291.6" fill="#422de7"/><polygon points="1296.2,1309.7 1267.1,1281.7 1322.8,1275.8 1351.9,1301.8" fill="#4332f3"/><polygon points="1240.5,1314.6 1211.4,1284.0 1267.1,1281.7 1296.2,1309.7" fill="#443dff"/><polygon points="1184.9,1315.6 1155.8,1282.0 1211.4,1284.0 1240.5,1314.6" fill="#4343ff"/><polygon points="1129.2,1311.4 1100.1,1274.3 1155.8,1282.0 1184.9,1315.6" fill="#4155ff"/><polygon points="1073.5,1300.7 1044.4,1259.2 1100.1,1274.3 1129.2,1311.4" fill="#3c61ff"/><polygon points="1017.9,1281.3 988.7,1234.6 1044.4,1259.2 1073.5,1300.7" fill="#237dff"/><polygon points="962.2,1250.7 933.1,1197.8 988.7,1234.6 1017.9,1281.3" fill="#149cff"/><polygon points="906.5,1205.6 877.4,1145.1 933.1,1197.8 962.2,1250.7" fill="#00bbe8"/><polygon points="1715.0,1239.4 1685.9,1220.6 1741.6,1204.2 1770.7,1222.4" fill="#3e22c0"/><polygon points="1659.3,1256.0 1630.2,1236.5 1685.9,1220.6 1715.0,1239.4" fill="#3e22c0"/><polygon points="1603.7,1272.2 1574.5,1251.7 1630.2,1236.5 1659.3,1256.0" fill="#4025ce"/><polygon points="1548.0,1287.7 1518.9,1266.2 1574.5,1251.7 1603.7,1272.2" fill="#4025ce"/><polygon points="1492.3,1302.4 1463.2,1279.6 1518.9,1266.2 1548.0,1287.7" fill="#4025ce"/><polygon points="1436.6,1316.0 1407.5,1291.6 1463.2,1279.6 1492.3,1302.4" fill="#4129db"/><polygon points="1381.0,1328.1 1351.9,1301.8 1407.5,1291.6 1436.6,1316.0" fill="#422de7"/><polygon points="1325.3,1338.3 1296.2,1309.7 1351.9,1301.8 1381.0,1328.1" fill="#422de7"/><polygon points="1269.6,1345.9 1240.5,1314.6 1296.2,1309.7 1325.3,1338.3" fill="#4332f3"/><polygon points="1214.0,1350.2 1184.9,1315.6 1240.5,1314.6 1269.6,1345.9" fill="#443dff"/><polygon points="1158.3,1350.0 1129.2,1311.4 1184.9,1315.6 1214.0,1350.2" fill="#4349ff"/><polygon points="1102.6,1343.9 1073.5,1300.7 1129.2,1311.4 1158.3,1350.0" fill="#4155ff"/><polygon points="1047.0,1330.2 1017.9,1281.3 1073.5,1300.7 1102.6,1343.9" fill="#3968ff"/><polygon points="991.3,1306.5 962.2,1250.7 1017.9,1281.3 1047.0,1330.2" fill="#1f84ff"/><polygon points="935.6,1269.7 906.5,1205.6 962.2,1250.7 991.3,1306.5" fill="#0ea7fa"/></g><g stroke-linecap="round"><line x1="295.2" y1="1142.4" x2="295.2" y2="367.4" stroke="#262626" stroke-width="3.20"/><line x1="295.2" y1="1142.4" x2="935.6" y2="1492.9" stroke="#262626" stroke-width="3.20"/><line x1="935.6" y1="1492.9" x2="1770.7" y2="1224.8" stroke="#262626" stroke-width="3.20"/><line x1="295.2" y1="1142.4" x2="273.3" y2="1130.4" stroke="#3a3a3a" stroke-width="2.20"/><line x1="295.2" y1="987.4" x2="273.3" y2="975.4" stroke="#3a3a3a" stroke-width="2.20"/><line x1="295.2" y1="832.4" x2="273.3" y2="820.4" stroke="#3a3a3a" stroke-width="2.20"/><line x1="295.2" y1="677.4" x2="273.3" y2="665.4" stroke="#3a3a3a" stroke-width="2.20"/><line x1="295.2" y1="522.4" x2="273.3" y2="510.4" stroke="#3a3a3a" stroke-width="2.20"/><line x1="295.2" y1="367.4" x2="273.3" y2="355.4" stroke="#3a3a3a" stroke-width="2.20"/><line x1="295.2" y1="1142.4" x2="271.4" y2="1150.0" stroke="#3a3a3a" stroke-width="2.20"/><line x1="440.8" y1="1222.1" x2="416.9" y2="1229.7" stroke="#3a3a3a" stroke-width="2.20"/><line x1="586.3" y1="1301.7" x2="562.5" y2="1309.3" stroke="#3a3a3a" stroke-width="2.20"/><line x1="731.8" y1="1381.4" x2="708.0" y2="1389.0" stroke="#3a3a3a" stroke-width="2.20"/><line x1="877.4" y1="1461.0" x2="853.6" y2="1468.6" stroke="#3a3a3a" stroke-width="2.20"/><line x1="935.6" y1="1492.9" x2="957.6" y2="1504.9" stroke="#3a3a3a" stroke-width="2.20"/><line x1="1214.0" y1="1403.5" x2="1235.9" y2="1415.5" stroke="#3a3a3a" stroke-width="2.20"/><line x1="1492.3" y1="1314.2" x2="1514.3" y2="1326.2" stroke="#3a3a3a" stroke-width="2.20"/><line x1="1770.7" y1="1224.8" x2="1792.6" y2="1236.8" stroke="#3a3a3a" stroke-width="2.20"/></g><text x="1030.6" y="74" font-family="'Liberation Sans', Arial, sans-serif" font-weight="bold" font-size="59.5" text-anchor="middle" word-spacing="2.9" fill="#000">Solubility Vs Pressure Vs Temperature</text><text x="253.3" y="368.4" font-family="'Liberation Sans', Arial, sans-serif" font-size="54.5" text-anchor="end" fill="#262626">0.025</text><text x="253.3" y="523.4" font-family="'Liberation Sans', Arial, sans-serif" font-size="54.5" text-anchor="end" fill="#262626">0.02</text><text x="253.3" y="678.4" font-family="'Liberation Sans', Arial, sans-serif" font-size="54.5" text-anchor="end" fill="#262626">0.015</text><text x="253.3" y="833.4" font-family="'Liberation Sans', Arial, sans-serif" font-size="54.5" text-anchor="end" fill="#262626">0.01</text><text x="253.3" y="988.4" font-family="'Liberation Sans', Arial, sans-serif" font-size="54.5" text-anchor="end" fill="#262626">0.005</text><text x="253.3" y="1143.4" font-family="'Liberation Sans', Arial, sans-serif" font-size="54.5" text-anchor="end" fill="#262626">0</text><text x="206.2" y="1213.9" font-family="'Liberation Sans', Arial, sans-serif" font-size="54.5" text-anchor="middle" fill="#262626">300</text><text x="351.8" y="1293.6" font-family="'Liberation Sans', Arial, sans-serif" font-size="54.5" text-anchor="middle" fill="#262626">250</text><text x="497.3" y="1373.2" font-family="'Liberation Sans', Arial, sans-serif" font-size="54.5" text-anchor="middle" fill="#262626">200</text><text x="642.8" y="1452.9" font-family="'Liberation Sans', Arial, sans-serif" font-size="54.5" text-anchor="middle" fill="#262626">150</text><text x="788.4" y="1532.5" font-family="'Liberation Sans', Arial, sans-serif" font-size="54.5" text-anchor="middle" fill="#262626">100</text><text x="1004.1" y="1573.4" font-family="'Liberation Sans', Arial, sans-serif" font-size="54.5" text-anchor="middle" fill="#262626">25</text><text x="1282.5" y="1484.0" font-family="'Liberation Sans', Arial, sans-serif" font-size="54.5" text-anchor="middle" fill="#262626">30</text><text x="1560.8" y="1394.7" font-family="'Liberation Sans', Arial, sans-serif" font-size="54.5" text-anchor="middle" fill="#262626">35</text><text x="1839.2" y="1305.3" font-family="'Liberation Sans', Arial, sans-serif" font-size="54.5" text-anchor="middle" fill="#262626">40</text><text x="404.2" y="1563" font-family="'Liberation Sans', Arial, sans-serif" font-size="60.5" text-anchor="middle" fill="#262626" letter-spacing="-0.15">Pressure (bar)</text><text x="1514.3" y="1583.2" font-family="'Liberation Sans', Arial, sans-serif" font-size="60.5" text-anchor="middle" fill="#262626" letter-spacing="0.2">Temperature (C)</text><text transform="translate(75.6,757.7) rotate(-90)" x="0" y="0" font-family="'Liberation Sans', Arial, sans-serif" font-size="60.5" text-anchor="middle" fill="#262626" letter-spacing="2.3">Solubility</text></svg></body></html>
